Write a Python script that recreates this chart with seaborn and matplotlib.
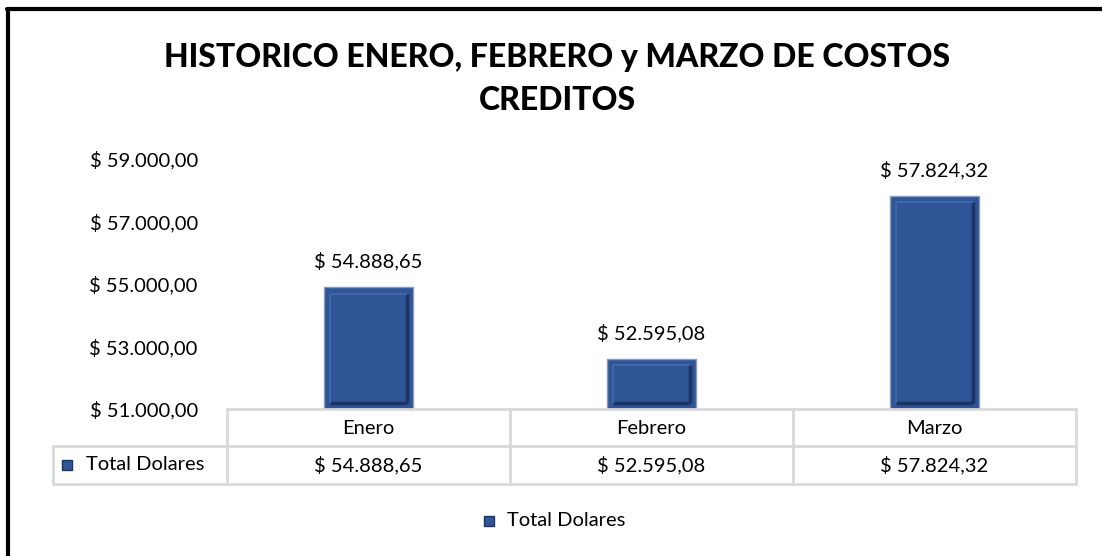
import matplotlib
matplotlib.use('Agg')
import matplotlib.pyplot as plt
from matplotlib.lines import Line2D
from matplotlib.patches import Rectangle
import seaborn as sns

sns.set_style("white")
plt.rcParams['font.family'] = ['Lato', 'DejaVu Sans']
plt.rcParams['text.color'] = '#000000'
plt.rcParams['ytick.color'] = '#000000'

categories = ["Enero", "Febrero", "Marzo"]
values = [54888.65, 52595.08, 57824.32]
y_ticks = [51000, 53000, 55000, 57000, 59000]
series_name = "Total Dolares"
title = "HISTORICO ENERO, FEBRERO y MARZO DE COSTOS\nCREDITOS"

BAR = "#2f5597"
DARK = "#1c3461"
GRID = "#d9d9d9"
W, H = 1102, 556
FS = 14.5


def money(v):
    s = f"{v:,.2f}".replace(",", "X").replace(".", ",").replace("X", ".")
    return f"$ {s}"


fig = plt.figure(figsize=(W / 100, H / 100), dpi=100)
# plot area in pixels: x 227..1076, y 159..409
ax = fig.add_axes([227 / W, 1 - 409 / H, (1076 - 227) / W, (409 - 159) / H])

sns.barplot(x=categories, y=values, ax=ax, color=BAR, width=0.315,
            edgecolor="#8e9bb5", linewidth=1.0, saturation=1)
ax.set_ylim(y_ticks[0], y_ticks[-1])
ax.set_xlim(-0.5, len(categories) - 0.5)

# bevel look on each bar
for p in ax.patches:
    x0, w = p.get_x(), p.get_width()
    top = p.get_y() + p.get_height()
    inset_x = w * 0.07
    inset_y = (y_ticks[-1] - y_ticks[0]) * 0.025
    ax.plot([x0 + w - inset_x, x0 + w - inset_x], [y_ticks[0] + inset_y, top - inset_y],
            color=DARK, lw=2.5, solid_capstyle="butt")
    ax.plot([x0 + inset_x, x0 + w - inset_x], [y_ticks[0] + inset_y, y_ticks[0] + inset_y],
            color=DARK, lw=2.5, solid_capstyle="butt")
    ax.plot([x0 + inset_x, x0 + w - inset_x], [top - inset_y, top - inset_y],
            color="#3e66ad", lw=1.5, solid_capstyle="butt")
    ax.plot([x0 + inset_x, x0 + inset_x], [y_ticks[0] + inset_y, top - inset_y],
            color="#3e66ad", lw=1.5, solid_capstyle="butt")

for i, v in enumerate(values):
    ax.annotate(money(v), (i, v), xytext=(0, 12), textcoords="offset points",
                ha="center", va="bottom", fontsize=FS, color="#000000",
                annotation_clip=False)

ax.set_yticks(y_ticks)
ax.set_yticklabels([money(t) for t in y_ticks], fontsize=FS)
ax.tick_params(axis="y", length=0, pad=21)
ax.set_xticks([])
ax.set_xlabel("")
for s in ax.spines.values():
    s.set_visible(False)

# data table below the plot area
tf = fig.transFigure
lc = dict(color=GRID, lw=2, transform=tf)
cols = [227, 510, 793, 1076]


def fx(px):
    return px / W


def fy(py):
    return 1 - py / H


fig.add_artist(Line2D([fx(227), fx(1076)], [fy(409), fy(409)], **lc))
fig.add_artist(Line2D([fx(53), fx(1076)], [fy(446), fy(446)], **lc))
fig.add_artist(Line2D([fx(53), fx(1076)], [fy(484), fy(484)], **lc))
for c in cols:
    fig.add_artist(Line2D([fx(c), fx(c)], [fy(409), fy(484)], **lc))
fig.add_artist(Line2D([fx(53), fx(53)], [fy(446), fy(484)], **lc))

for i, (cat, v) in enumerate(zip(categories, values)):
    cx = (cols[i] + cols[i + 1]) / 2
    fig.text(fx(cx), fy(428), cat, ha="center", va="center", fontsize=FS)
    fig.text(fx(cx), fy(465), money(v), ha="center", va="center", fontsize=FS)

fig.add_artist(Rectangle((fx(62), fy(470)), 10 / W, 10 / H, transform=tf,
                         facecolor=BAR, edgecolor=DARK, lw=1))
fig.text(fx(86), fy(465), series_name, ha="left", va="center", fontsize=FS)

# legend at bottom
fig.add_artist(Rectangle((fx(484), fy(526)), 10 / W, 10 / H, transform=tf,
                         facecolor=BAR, edgecolor=DARK, lw=1))
fig.text(fx(507), fy(521), series_name, ha="left", va="center", fontsize=FS)

fig.text(fx(557), fy(79), title, ha="center", va="center", fontsize=23,
         fontweight="black", linespacing=1.55)

# outer frame (left and top only visible)
frame = dict(color="#000000", lw=3, transform=tf)
fig.add_artist(Line2D([fx(8), fx(8)], [0, fy(9)], **frame))
fig.add_artist(Line2D([fx(7), 1], [fy(9), fy(9)], **frame))

fig.savefig("out.png", dpi=100)
